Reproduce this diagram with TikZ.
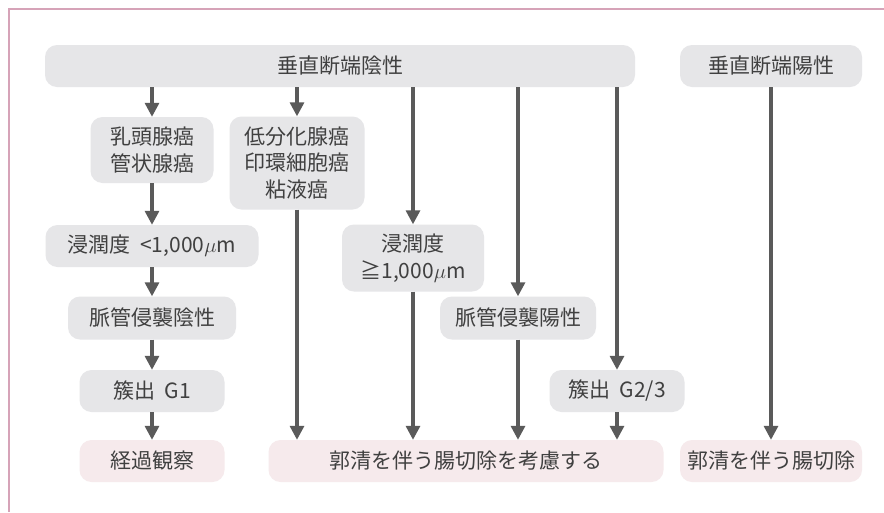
\documentclass[tikz,border=0pt]{standalone}
\usepackage{fontspec}
\setmainfont{Noto Sans CJK JP}
\usetikzlibrary{arrows.meta}
\definecolor{boxgray}{HTML}{E6E6E8}
\definecolor{boxpink}{HTML}{F6EAEC}
\definecolor{txt}{HTML}{404040}
\definecolor{arrowc}{HTML}{5A5A5A}
\definecolor{framec}{HTML}{D6A3B8}
\tikzset{
  gbox/.style={fill=boxgray, rounded corners=12pt, inner sep=0pt, align=center,
    text=txt, font=\fontsize{21}{26.5}\selectfont},
  pbox/.style={gbox, fill=boxpink},
  arr/.style={draw=arrowc, line width=3.2pt, -{Triangle[width=14pt,length=14pt]}},
}
\begin{document}
\begin{tikzpicture}[x=1pt,y=-1pt]
\useasboundingbox (0,0) rectangle (884,512);
\fill[white] (0,0) rectangle (884,512);
\draw[framec, line width=2pt] (9,512) -- (9,9) -- (884,9);

\node[gbox, minimum width=590pt, minimum height=42pt] (top) at (340,66) {垂直断端陰性};
\node[gbox, minimum width=182pt, minimum height=42pt] (topR) at (771,66) {垂直断端陽性};

\node[gbox, minimum width=123pt, minimum height=66pt] (n1) at (152,150) {乳頭腺癌\\管状腺癌};
\node[gbox, minimum width=135pt, minimum height=93pt] (n2) at (297,163) {低分化腺癌\\印環細胞癌\\粘液癌};
\node[gbox, minimum width=213pt, minimum height=42pt] (n3) at (152,246) {浸潤度\ \ <1,000$\mu$m};
\node[gbox, minimum width=142pt, minimum height=67pt] (n4) at (413,258) {浸潤度\\≧1,000$\mu$m};
\node[gbox, minimum width=168pt, minimum height=43pt] (n5) at (152,318) {脈管侵襲陰性};
\node[gbox, minimum width=156pt, minimum height=43pt] (n6) at (518,318) {脈管侵襲陽性};
\node[gbox, minimum width=145pt, minimum height=42pt] (n7) at (152,391) {簇出\ \ G1};
\node[gbox, minimum width=135pt, minimum height=42pt] (n8) at (617,391) {簇出\ \ G2/3};

\node[pbox, minimum width=145pt, minimum height=42pt] (b1) at (152,461) {経過観察};
\node[pbox, minimum width=395pt, minimum height=42pt] (b2) at (466,461) {郭清を伴う腸切除を考慮する};
\node[pbox, minimum width=182pt, minimum height=42pt] (b3) at (771,461) {郭清を伴う腸切除};

\draw[arr] (top.south -| n1) -- (n1.north);
\draw[arr] (top.south -| n2) -- (n2.north);
\draw[arr] (top.south -| n4) -- (n4.north);
\draw[arr] (top.south -| n6) -- (n6.north);
\draw[arr] (top.south -| n8) -- (n8.north);
\draw[arr] (topR.south) -- (b3.north);

\draw[arr] (n1.south) -- (n3.north);
\draw[arr] (n3.south) -- (n5.north);
\draw[arr] (n5.south) -- (n7.north);
\draw[arr] (n7.south) -- (b1.north);

\draw[arr] (n2.south) -- (n2.south |- b2.north);
\draw[arr] (n4.south) -- (n4.south |- b2.north);
\draw[arr] (n6.south) -- (n6.south |- b2.north);
\draw[arr] (n8.south) -- (n8.south |- b2.north);
\end{tikzpicture}
\end{document}
